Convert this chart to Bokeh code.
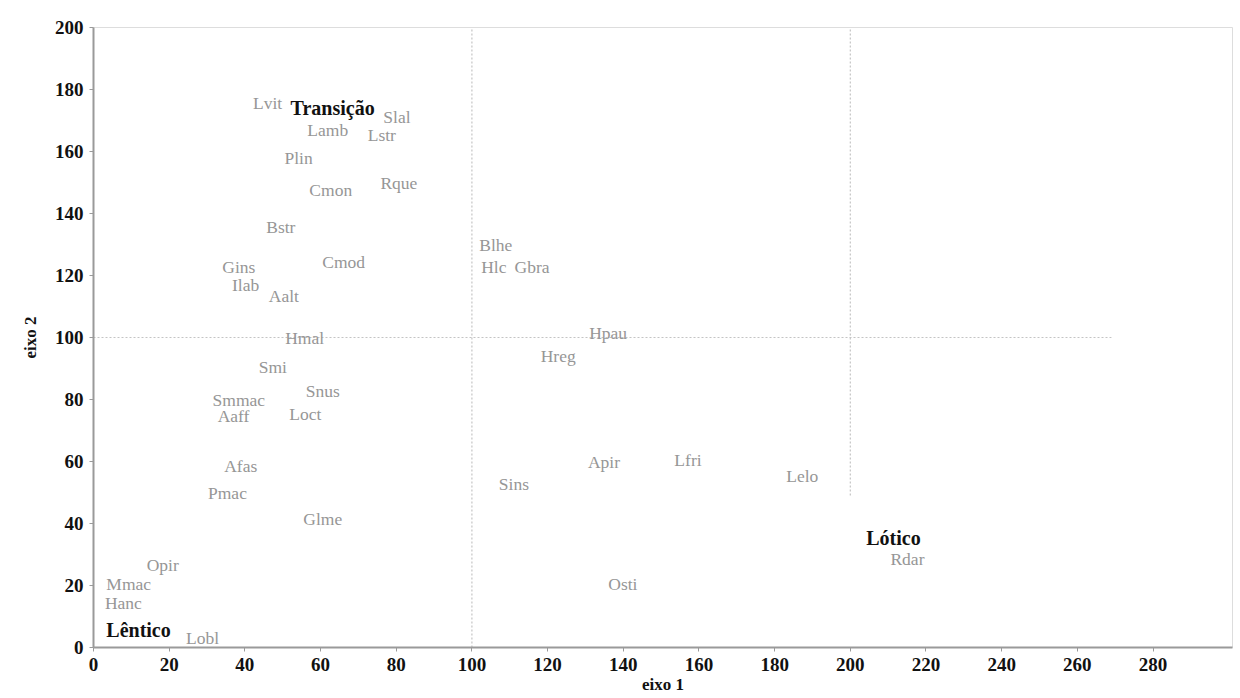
from bokeh.plotting import figure
from bokeh.models import Range1d, ColumnDataSource, FixedTicker
from bokeh.core.properties import value
from bokeh.embed import file_html
from bokeh.resources import INLINE

# species labels (eixo 1, eixo 2)
species = ["Lvit", "Slal", "Lamb", "Lstr", "Plin", "Cmon", "Rque", "Bstr", "Cmod",
           "Gins", "Ilab", "Aalt", "Hmal", "Smi", "Smmac", "Snus", "Aaff", "Loct",
           "Afas", "Pmac", "Glme", "Opir", "Mmac", "Hanc", "Lobl", "Blhe", "Hlc",
           "Gbra", "Hpau", "Hreg", "Sins", "Apir", "Lfri", "Lelo", "Rdar", "Osti"]
eixo1 = [46.0, 80.2, 61.9, 76.2, 54.2, 62.7, 80.7, 49.5, 66.1,
         38.4, 40.2, 50.3, 55.8, 47.4, 38.4, 60.6, 37.0, 56.0,
         38.9, 35.4, 60.6, 18.3, 9.3, 7.9, 28.8, 106.3, 105.8,
         115.9, 136.0, 122.8, 111.1, 134.9, 157.1, 187.3, 215.1, 139.9]
eixo2 = [175.8, 171.0, 166.8, 165.2, 158.0, 147.7, 150.0, 135.5, 124.5,
         122.9, 117.0, 113.5, 99.7, 90.6, 79.7, 82.6, 74.8, 75.2,
         58.4, 49.7, 41.3, 26.5, 20.6, 14.2, 3.2, 129.7, 122.9,
         122.9, 101.3, 93.9, 52.9, 60.0, 60.6, 55.2, 28.4, 20.6]

# group labels
groups = ["Transição", "Lêntico", "Lótico"]
group_x = [63.2, 11.9, 211.4]
group_y = [173.9, 5.5, 35.2]

# dotted reference lines
ref_x0 = [100, 200, 0]
ref_y0 = [0, 49, 100]
ref_x1 = [100, 200, 269]
ref_y1 = [200, 200, 100]

x_ticks = list(range(0, 300, 20))
y_ticks = list(range(0, 220, 20))

p = figure(width=1233, height=697, output_backend="svg", toolbar_location=None,
           x_range=Range1d(0, 301), y_range=Range1d(0, 200),
           min_border_left=93, min_border_right=1, min_border_top=27, min_border_bottom=50)
p.background_fill_color = "white"
p.border_fill_color = "white"
p.outline_line_color = "#dddddd"
p.outline_line_width = 1
p.xgrid.visible = False
p.ygrid.visible = False

p.segment(x0=ref_x0, y0=ref_y0, x1=ref_x1, y1=ref_y1,
          line_color="#c4c4c4", line_width=1.2, line_dash="2 2")

src = ColumnDataSource(dict(x=eixo1, y=eixo2, t=species))
p.text(x="x", y="y", text="t", source=src, text_align="center", text_baseline="middle",
       text_font=value("Liberation Serif"), text_font_size="17.5px", text_color="#969696")

gsrc = ColumnDataSource(dict(x=group_x, y=group_y, t=groups))
p.text(x="x", y="y", text="t", source=gsrc, text_align="center", text_baseline="middle",
       text_font=value("Liberation Serif"), text_font_size="20px", text_font_style="bold",
       text_color="#111111")

for ax in (p.xaxis[0], p.yaxis[0]):
    ax.axis_line_color = "#9a9a9a"
    ax.axis_line_width = 2
    ax.major_tick_line_color = "#9a9a9a"
    ax.major_tick_out = 4
    ax.major_tick_in = 0
    ax.minor_tick_line_color = None
    ax.major_label_text_font = "Liberation Serif"
    ax.major_label_text_font_style = "bold"
    ax.major_label_text_font_size = "19px"
    ax.major_label_text_color = "#111111"
    ax.axis_label_text_font = "Liberation Serif"
    ax.axis_label_text_font_style = "bold"
    ax.axis_label_text_font_size = "17px"
    ax.axis_label_text_color = "#111111"

p.xaxis.ticker = FixedTicker(ticks=x_ticks)
p.yaxis.ticker = FixedTicker(ticks=y_ticks)
p.xaxis.axis_label = "eixo 1"
p.yaxis.axis_label = "eixo 2"
p.xaxis.major_label_standoff = 6
p.xaxis.axis_label_standoff = 1
p.yaxis.major_label_standoff = 6
p.yaxis.axis_label_standoff = 12

open("out.html", "w").write(file_html(p, INLINE))
